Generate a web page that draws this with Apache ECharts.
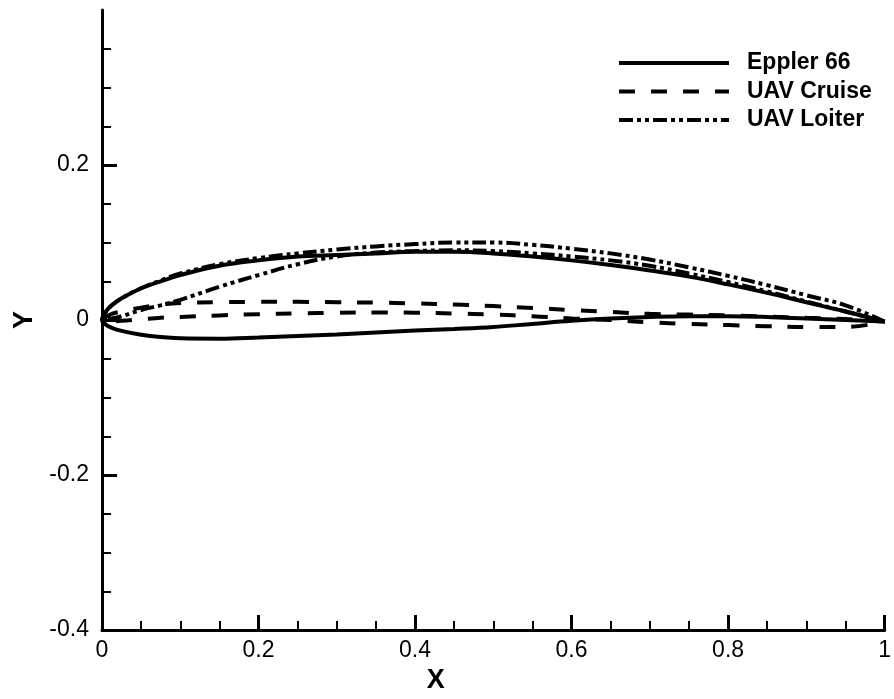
<!DOCTYPE html>
<html>
<head>
<meta charset="utf-8">
<script src="https://cdn.jsdelivr.net/npm/echarts@6/dist/echarts.min.js"></script>
<style>
  html, body { margin: 0; padding: 0; background: #ffffff; }
  #chart { width: 894px; height: 699px; }
</style>
</head>
<body>
<div id="chart"></div>
<script>
// Chord stations (x/c) shared by every surface
const stations = [0, 0.005, 0.0125, 0.025, 0.05, 0.075, 0.1, 0.15, 0.2, 0.25, 0.3, 0.35, 0.4,
                  0.45, 0.5, 0.55, 0.6, 0.65, 0.7, 0.75, 0.8, 0.85, 0.9, 0.95, 1.0];

// Surface ordinates (y/c) at each station
const epplerUpper = [0, 0.011, 0.019, 0.028, 0.041, 0.050, 0.058, 0.070, 0.077, 0.082, 0.084, 0.086, 0.088,
                     0.088, 0.086, 0.082, 0.077, 0.071, 0.064, 0.056, 0.046, 0.035, 0.023, 0.011, -0.002];
const epplerLower = [0, -0.006, -0.010, -0.014, -0.019, -0.022, -0.0235, -0.024, -0.0225, -0.0205, -0.0185, -0.016, -0.0135,
                     -0.0115, -0.009, -0.005, -0.001, 0.002, 0.004, 0.005, 0.005, 0.004, 0.002, 0.000, -0.002];

const cruiseUpper = [0, 0.004, 0.008, 0.011, 0.016, 0.020, 0.022, 0.023, 0.0235, 0.0235, 0.023, 0.0225, 0.0215,
                     0.020, 0.018, 0.0155, 0.013, 0.0105, 0.008, 0.007, 0.006, 0.0045, 0.003, 0.0013, -0.002];
const cruiseLower = [0, -0.001, -0.0015, -0.001, 0.001, 0.003, 0.004, 0.006, 0.0075, 0.0085, 0.0095, 0.0098, 0.0095,
                     0.0085, 0.007, 0.005, 0.002, 0.000, -0.003, -0.005, -0.0065, -0.008, -0.009, -0.009, -0.002];

const loiterUpper = [0, 0.011, 0.019, 0.028, 0.041, 0.051, 0.060, 0.072, 0.080, 0.086, 0.091, 0.095, 0.098,
                     0.100, 0.100, 0.097, 0.092, 0.086, 0.078, 0.068, 0.057, 0.045, 0.032, 0.019, -0.002];
const loiterLower = [0, 0.001, 0.002, 0.005, 0.013, 0.019, 0.026, 0.043, 0.058, 0.072, 0.082, 0.087, 0.089,
                     0.090, 0.089, 0.086, 0.082, 0.077, 0.070, 0.060, 0.049, 0.037, 0.024, 0.011, -0.002];

const seriesNames = ['Eppler 66', 'UAV Cruise', 'UAV Loiter'];
const xTickValues = [0, 0.2, 0.4, 0.6, 0.8, 1];
const yTickValues = [-0.4, -0.2, 0, 0.2];

// Closed outline: trailing edge -> upper surface -> leading edge -> lower surface -> trailing edge
function outline(upper, lower) {
  const pts = [];
  for (let i = stations.length - 1; i >= 0; i--) pts.push([stations[i], upper[i]]);
  for (let i = 1; i < stations.length; i++) pts.push([stations[i], lower[i]]);
  return pts;
}

const FONT = '"Liberation Sans", Arial, Helvetica, sans-serif';
const INK = '#000000';

const chart = echarts.init(document.getElementById('chart'), null, { renderer: 'canvas' });

function axisCommon() {
  return {
    axisLine: { show: true, onZero: false, lineStyle: { color: INK, width: 3 } },
    axisTick: { show: true, inside: true, length: 15, lineStyle: { color: INK, width: 3 } },
    minorTick: { show: true, splitNumber: 4, length: 9, lineStyle: { color: INK, width: 2 } },
    splitLine: { show: false },
    minorSplitLine: { show: false },
    axisLabel: { color: INK, fontFamily: FONT, fontSize: 23 }
  };
}

const xAxis = axisCommon();
Object.assign(xAxis, {
  type: 'value', min: 0, max: 1, interval: 0.2,
  name: 'X', nameLocation: 'middle', nameGap: 27,
  nameTextStyle: { color: INK, fontFamily: FONT, fontSize: 27, fontWeight: 'bold', padding: [0, 115, 0, 0] }
});
xAxis.axisLabel.margin = 9;
xAxis.axisTick.customValues = xTickValues;
xAxis.axisLabel.customValues = xTickValues;

const yAxis = axisCommon();
Object.assign(yAxis, {
  type: 'value', min: -0.4, max: 0.4, interval: 0.2,
  name: 'Y', nameLocation: 'middle', nameGap: 62,
  nameTextStyle: { color: INK, fontFamily: FONT, fontSize: 27, fontWeight: 'bold' }
});
yAxis.axisLabel.margin = 13;
yAxis.axisTick.customValues = yTickValues;
yAxis.axisLabel.customValues = yTickValues;

const lineStyles = [
  { color: INK, width: 4, type: 'solid' },
  { color: INK, width: 4, type: [16, 16] },
  { color: INK, width: 4, type: [14, 4, 4, 4, 4, 4] }
];
const shapes = [
  outline(epplerUpper, epplerLower),
  outline(cruiseUpper, cruiseLower),
  outline(loiterUpper, loiterLower)
];

chart.setOption({
  backgroundColor: '#ffffff',
  animation: false,
  grid: { left: 102, right: 7, top: 10, bottom: 62, containLabel: false },
  legend: {
    data: seriesNames,
    orient: 'vertical',
    left: 617,
    top: 51,
    itemWidth: 110,
    itemHeight: 14,
    itemGap: 4.5,
    padding: 0,
    itemStyle: { opacity: 0 },
    lineStyle: { width: 'inherit', type: 'inherit', color: 'inherit' },
    textStyle: { color: INK, fontFamily: FONT, fontSize: 23, fontWeight: 'bold', lineHeight: 24, padding: [0, 0, 0, 13] }
  },
  xAxis: xAxis,
  yAxis: yAxis,
  series: seriesNames.map((name, i) => ({
    name: name,
    type: 'line',
    data: shapes[i],
    showSymbol: false,
    symbol: 'none',
    smooth: 0.4,
    clip: false,
    lineStyle: lineStyles[i],
    itemStyle: { color: INK },
    emphasis: { disabled: true }
  }))
});
</script>
</body>
</html>
